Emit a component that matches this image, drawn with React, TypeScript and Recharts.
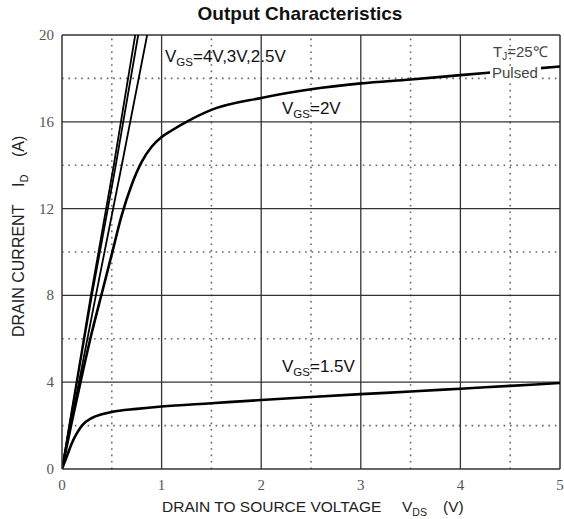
import { LineChart, Line, XAxis, YAxis, ReferenceLine } from 'recharts'

// VGS = 1.5V
const VDS_15 = [0, 0.05, 0.1, 0.15, 0.2, 0.3, 0.4, 0.5, 0.75, 1, 1.5, 2, 2.5, 3, 3.5, 4, 4.5, 5]
const ID_15 = [0, 0.6, 1.2, 1.65, 2.0, 2.35, 2.52, 2.63, 2.77, 2.88, 3.03, 3.18, 3.32, 3.45, 3.57, 3.7, 3.83, 3.96]

// VGS = 2V
const VDS_2 = [0, 0.1, 0.2, 0.3, 0.4, 0.5, 0.6, 0.7, 0.8, 0.9, 1.0, 1.1, 1.25, 1.5, 2, 2.5, 3, 3.5, 4, 4.5, 5]
const ID_2 = [0, 2.2, 4.3, 6.3, 8.1, 9.9, 11.7, 13.1, 14.15, 14.85, 15.3, 15.6, 16.0, 16.55, 17.1, 17.5, 17.77, 17.95, 18.15, 18.35, 18.55]

// VGS = 4V, 3V, 2.5V (almost linear, leave the plot at the top)
const ID_STEEP = [0, 8, 14, 20]
const VDS_4 = [0, 0.29, 0.52, 0.735]
const VDS_3 = [0, 0.3, 0.54, 0.765]
const VDS_25 = [0, 0.34, 0.6, 0.855]

const X_TICKS = [0, 1, 2, 3, 4, 5]
const Y_TICKS = [0, 4, 8, 12, 16, 20]
const X_MAJOR = [1, 2, 3, 4]
const Y_MAJOR = [4, 8, 12, 16]
const X_MINOR = [0.5, 1.5, 2.5, 3.5, 4.5]
const Y_MINOR = [2, 6, 10, 14, 18]

const toPoints = (xs: number[], ys: number[]) => xs.map((x, i) => ({ x, y: ys[i] }))

const SERIES = [
  { name: '4V', data: toPoints(VDS_4, ID_STEEP), width: 1.8 },
  { name: '3V', data: toPoints(VDS_3, ID_STEEP), width: 1.8 },
  { name: '2.5V', data: toPoints(VDS_25, ID_STEEP), width: 1.8 },
  { name: '2V', data: toPoints(VDS_2, ID_2), width: 2.6 },
  { name: '1.5V', data: toPoints(VDS_15, ID_15), width: 2.6 },
]

const SANS = '"Liberation Sans", Arial, sans-serif'
const SERIF = '"Liberation Serif", "Times New Roman", serif'

const XTick = ({ x, y, payload }: any) => (
  <text x={x} y={y + 19} textAnchor="middle" fontSize={15} fill="#555" fontFamily={SERIF}>
    {payload.value}
  </text>
)

const YTick = ({ x, y, payload }: any) => (
  <text x={x - 6} y={y + 5} textAnchor="end" fontSize={15} fill="#555" fontFamily={SERIF}>
    {payload.value}
  </text>
)

function Overlay() {
  return (
    <svg
      width={564}
      height={519}
      style={{ position: 'absolute', left: 0, top: 0, pointerEvents: 'none' }}
      fontFamily={SANS}
    >
      <text x={300} y={19.5} textAnchor="middle" fontSize={19} fontWeight="bold" fill="#111">
        Output Characteristics
      </text>

      {/* x axis title */}
      <text x={162} y={512} fontSize={15.5} fill="#222">
        DRAIN TO SOURCE VOLTAGE
      </text>
      <text x={402} y={512} fontSize={15.5} fill="#222">
        V<tspan fontSize={10.5} dy={4}>DS</tspan>
      </text>
      <text x={443} y={512} fontSize={15.5} fill="#222">
        (V)
      </text>

      {/* y axis title */}
      <g transform="rotate(-90 24 337)">
        <text x={24} y={337} fontSize={16} fill="#222">
          DRAIN CURRENT
        </text>
        <text x={174} y={337} fontSize={16} fill="#222">
          I<tspan fontSize={11} dy={4}>D</tspan>
        </text>
        <text x={204} y={337} fontSize={16} fill="#222">
          (A)
        </text>
      </g>

      {/* curve labels */}
      <text x={165} y={61.5} fontSize={17} fill="#111">
        V<tspan fontSize={11.5} dy={4}>GS</tspan>
        <tspan dy={-4}>=4V,3V,2.5V</tspan>
      </text>
      <text x={282} y={113.5} fontSize={17} fill="#111">
        V<tspan fontSize={11.5} dy={4}>GS</tspan>
        <tspan dy={-4}>=2V</tspan>
      </text>
      <text x={282} y={372} fontSize={17} fill="#111">
        V<tspan fontSize={11.5} dy={4}>GS</tspan>
        <tspan dy={-4}>=1.5V</tspan>
      </text>

      <text x={493} y={57} fontSize={15} fill="#444">
        T<tspan fontSize={10} dy={3}>J</tspan>
        <tspan dy={-3}>=25℃</tspan>
      </text>
      <rect x={490} y={66} width={51} height={15} fill="#fff" />
      <text x={492} y={78} fontSize={15} fill="#444">
        Pulsed
      </text>
    </svg>
  )
}

export default function App() {
  return (
    <div style={{ position: 'absolute', left: 0, top: 0, width: 564, height: 519, background: '#fff' }}>
      <LineChart width={564} height={519} margin={{ top: 35, right: 4, left: 0, bottom: 0 }}>
        <XAxis
          dataKey="x"
          type="number"
          domain={[0, 5]}
          ticks={X_TICKS}
          allowDataOverflow
          height={50}
          tickLine={false}
          tickSize={0}
          tick={<XTick />}
          axisLine={{ stroke: '#333', strokeWidth: 1.5 }}
        />
        <YAxis
          dataKey="y"
          type="number"
          domain={[0, 20]}
          ticks={Y_TICKS}
          allowDataOverflow
          width={62}
          tickLine={false}
          tickSize={0}
          tick={<YTick />}
          axisLine={{ stroke: '#333', strokeWidth: 1.5 }}
        />

        {X_MINOR.map((v) => (
          <ReferenceLine key={`xm${v}`} x={v} stroke="#666" strokeWidth={1.6} strokeDasharray="1.6 4.8" />
        ))}
        {Y_MINOR.map((v) => (
          <ReferenceLine key={`ym${v}`} y={v} stroke="#666" strokeWidth={1.6} strokeDasharray="1.6 4.8" />
        ))}
        {X_MAJOR.map((v) => (
          <ReferenceLine key={`xM${v}`} x={v} stroke="#333" strokeWidth={1.3} />
        ))}
        {Y_MAJOR.map((v) => (
          <ReferenceLine key={`yM${v}`} y={v} stroke="#333" strokeWidth={1.3} />
        ))}
        <ReferenceLine x={5} stroke="#333" strokeWidth={1.5} />
        <ReferenceLine y={20} stroke="#333" strokeWidth={1.5} />

        {SERIES.map((s) => (
          <Line
            key={s.name}
            data={s.data}
            dataKey="y"
            type={s.data.length > 4 ? 'monotone' : 'linear'}
            stroke="#000"
            strokeWidth={s.width}
            dot={false}
            activeDot={false}
            isAnimationActive={false}
          />
        ))}
      </LineChart>
      <Overlay />
    </div>
  )
}
